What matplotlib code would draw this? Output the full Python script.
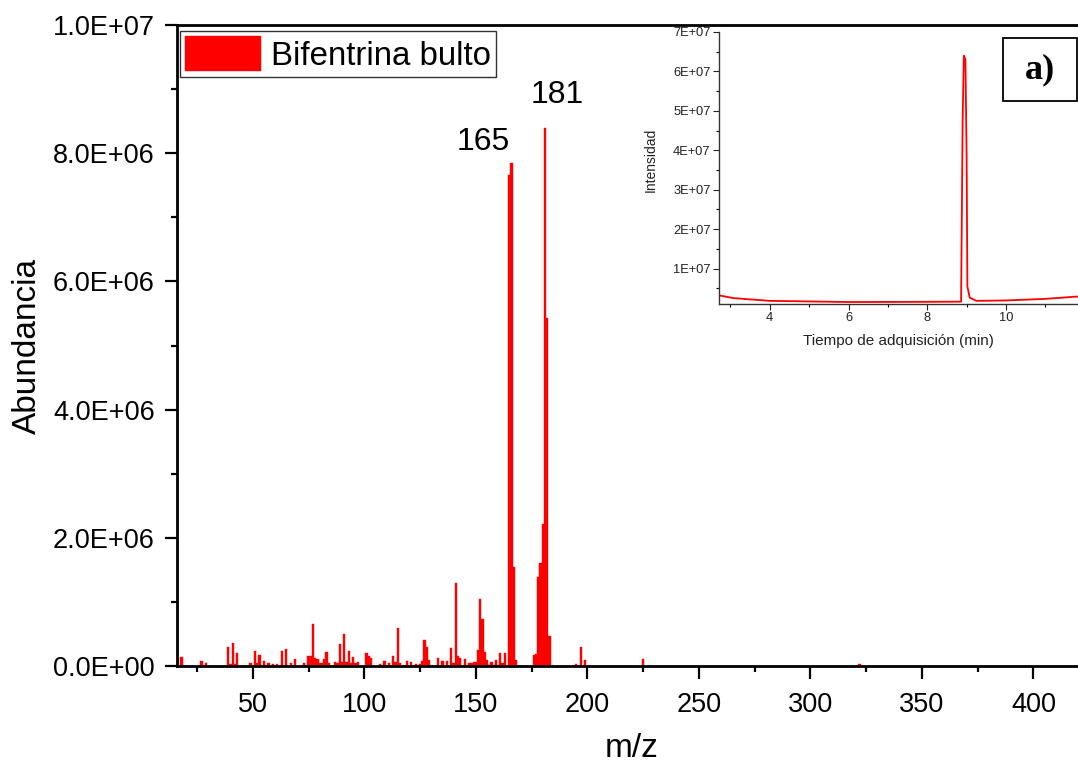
import numpy as np
import matplotlib
matplotlib.use("Agg")
import matplotlib.pyplot as plt
from matplotlib.ticker import MultipleLocator, FuncFormatter
from matplotlib.patches import Rectangle

plt.rcParams['font.family'] = ['Liberation Sans', 'DejaVu Sans']

# --- Mass spectrum (m/z vs abundance) ---
mz = [18, 27, 29, 39, 40, 41, 42, 43, 49, 51, 52, 53, 55, 57, 59, 61, 63, 65, 67, 69,
      73, 75, 76, 77, 78, 79, 80, 81, 82, 83, 84, 87, 88, 89, 90, 91, 92, 93, 94, 95,
      96, 97, 101, 102, 103, 107, 109, 111, 113, 114, 115, 116, 119, 121, 123, 125, 126, 127, 128, 129,
      133, 135, 137, 139, 140, 141, 142, 143, 145, 147, 148, 149, 150, 151, 152, 153, 154, 155, 156, 157,
      158, 159, 160, 161, 162, 163, 165, 166, 167, 168, 176, 177, 178, 179, 180, 181, 182, 183,
      195, 197, 199, 225, 322]
abund = [0.145, 0.078, 0.05, 0.29, 0.03, 0.36, 0.03, 0.21, 0.04, 0.23, 0.04, 0.17, 0.08, 0.04, 0.035, 0.035, 0.23, 0.26, 0.05, 0.11,
         0.04, 0.15, 0.15, 0.65, 0.13, 0.11, 0.05, 0.04, 0.11, 0.22, 0.05, 0.06, 0.05, 0.34, 0.07, 0.50, 0.07, 0.23, 0.04, 0.14,
         0.04, 0.06, 0.21, 0.15, 0.12, 0.03, 0.08, 0.05, 0.16, 0.07, 0.60, 0.05, 0.08, 0.07, 0.03, 0.03, 0.085, 0.40, 0.30, 0.09,
         0.12, 0.08, 0.08, 0.28, 0.04, 1.29, 0.16, 0.12, 0.11, 0.04, 0.04, 0.07, 0.07, 0.25, 1.05, 0.73, 0.22, 0.10, 0.015, 0.07,
         0.015, 0.10, 0.015, 0.21, 0.04, 0.21, 7.66, 7.85, 1.54, 0.09, 0.17, 0.19, 1.39, 1.60, 2.22, 8.40, 5.43, 0.47,
         0.03, 0.29, 0.10, 0.11, 0.03]
abund = [a * 1e6 for a in abund]
peak_mz = [165, 181]
peak_offsets = [(-19, 13), (9, 13)]  # label offsets from bar top, points

# --- Chromatogram (inset) ---
t_min = [2.71, 3.07, 4.0, 6.0, 8.0, 8.86, 8.90, 8.93, 8.97, 9.00, 9.02, 9.08, 9.25, 10.0, 11.0, 11.83]
intens = [3.2e6, 2.5e6, 1.8e6, 1.5e6, 1.55e6, 1.6e6, 4.8e7, 6.4e7, 6.3e7, 3.9e7, 5.4e6, 2.6e6, 1.8e6, 1.9e6, 2.3e6, 2.9e6]

W, H = 1078, 766
fig = plt.figure(figsize=(W / 100, H / 100), dpi=100)

ax = fig.add_axes([177 / W, 1 - 666 / H, 1 - 177 / W, (666 - 25) / H])
ax.bar(mz, abund, width=1.0, color='#ff0000', edgecolor='#ff0000', linewidth=0.3,
       label='Bifentrina bulto')
ax.set_xlim(16, 420)
ax.set_ylim(0, 1e7)

ax.xaxis.set_major_locator(MultipleLocator(50))
ax.xaxis.set_minor_locator(MultipleLocator(25))
ax.yaxis.set_major_locator(MultipleLocator(2e6))
ax.yaxis.set_minor_locator(MultipleLocator(1e6))
ax.yaxis.set_major_formatter(FuncFormatter(lambda v, p: f"{v:.1E}"))
ax.tick_params(which='major', length=9, width=1.6, labelsize=19.5, direction='out')
ax.tick_params(which='minor', length=4.5, width=1.6, direction='out')
ax.tick_params(axis='x', pad=10)
ax.tick_params(axis='y', pad=7)
for s in ['left', 'bottom', 'top']:
    ax.spines[s].set_linewidth(2)
ax.spines['right'].set_visible(False)

ax.set_xlabel('m/z', fontsize=24)
ax.set_ylabel('Abundancia', fontsize=24)
ax.xaxis.set_label_coords(0.505, -0.105)
ax.yaxis.set_label_coords(-0.149, 0.5)

for m, off in zip(peak_mz, peak_offsets):
    ax.annotate(str(m), xy=(m, abund[mz.index(m)]), xytext=off, textcoords='offset points',
                ha='center', va='bottom', fontsize=23)

leg = ax.legend(loc='upper left', bbox_to_anchor=(180 / W, 1 - 31 / H),
                bbox_transform=fig.transFigure, fontsize=23.8, frameon=True,
                fancybox=False, borderpad=0.16, handlelength=2.3, handleheight=1.25,
                handletextpad=0.3, borderaxespad=0)
leg.get_frame().set_edgecolor('black')
leg.get_frame().set_linewidth(1)

# inset chromatogram
axi = fig.add_axes([719 / W, 1 - 304 / H, 1 - 719 / W, (304 - 32) / H])
axi.plot(t_min, intens, color='#ff0000', linewidth=1.3)
axi.set_xlim(2.71, 11.83)
axi.set_ylim(1e6, 7e7)
axi.xaxis.set_major_locator(MultipleLocator(2))
axi.xaxis.set_minor_locator(MultipleLocator(1))
axi.yaxis.set_major_locator(MultipleLocator(1e7))
axi.yaxis.set_minor_locator(MultipleLocator(5e6))
axi.yaxis.set_major_formatter(FuncFormatter(lambda v, p: f"{int(round(v / 1e7))}E+07"))
axi.tick_params(which='major', length=4, width=0.8, labelsize=9.3, pad=2, colors='#222222')
axi.tick_params(which='minor', length=2, width=0.8)
for s in ['top', 'right']:
    axi.spines[s].set_visible(False)
for s in ['left', 'bottom']:
    axi.spines[s].set_linewidth(1)
    axi.spines[s].set_color('#333333')
axi.set_xlabel('Tiempo de adquisición (min)', fontsize=11, labelpad=7, color='#222222')
axi.set_ylabel('Intensidad', fontsize=10, color='#222222')
axi.yaxis.set_label_coords(-0.172, 0.53)

# "a)" box
fig.patches.append(Rectangle((1003 / W, 1 - 101 / H), 74 / W, 63 / H, transform=fig.transFigure,
                             facecolor='white', edgecolor='black', linewidth=1.3))
fig.text(1040 / W, 1 - 70 / H, 'a)', fontsize=26, fontweight='bold',
         family=['Liberation Serif', 'DejaVu Serif'], ha='center', va='center')

fig.savefig('out.png', dpi=100)
